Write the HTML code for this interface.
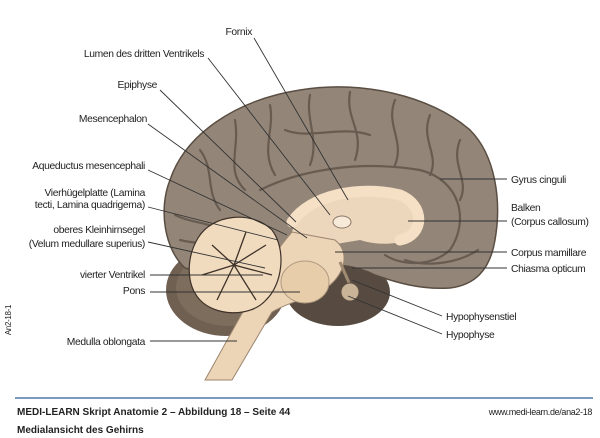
<!DOCTYPE html>
<html><head><meta charset="utf-8"><style>
html,body{margin:0;padding:0;background:#fff;}
svg{display:block;}
text{font-family:"Liberation Sans Narrow","Liberation Sans",sans-serif;font-size:10.3px;fill:#222;letter-spacing:-0.35px;}
.f{font-family:"Liberation Sans",sans-serif;letter-spacing:0;}
</style></head><body>
<svg width="600" height="438" viewBox="0 0 600 438" xmlns="http://www.w3.org/2000/svg">
<!-- cerebellum outer -->
<ellipse cx="226" cy="290" rx="60" ry="46" fill="#6f6052"/>
<ellipse cx="228" cy="288" rx="52" ry="38" fill="#7d6d5d"/>
<!-- dark under region -->
<ellipse cx="338" cy="292" rx="52" ry="34" fill="#574b41"/>
<!-- cerebrum -->
<path d="M185,268 C165,250 158,210 170,180 C185,135 235,100 300,90 C360,80 430,95 470,130 C495,155 502,200 495,240 C490,270 475,285 450,288 C420,290 395,282 375,275 C355,265 330,262 310,268 C280,275 250,265 230,258 C210,262 195,272 185,268 Z" fill="#938678" stroke="#5a4d42" stroke-width="1.5"/>
<!-- gyri -->
<g fill="none" stroke="#685b50" stroke-width="2.2" stroke-linecap="round">
<path d="M200,150 C215,170 205,190 220,210"/>
<path d="M235,120 C240,150 225,170 245,190"/>
<path d="M270,105 C275,130 260,150 275,175"/>
<path d="M310,95 C305,120 320,140 310,165"/>
<path d="M350,92 C345,120 365,130 355,160"/>
<path d="M395,100 C385,125 405,140 395,165"/>
<path d="M430,115 C420,140 440,155 430,175"/>
<path d="M460,140 C450,165 470,180 460,200"/>
<path d="M175,215 C195,225 210,220 225,235"/>
<path d="M260,190 C300,170 360,160 420,170 C460,180 470,220 450,250 C430,268 400,265 385,255"/>
<path d="M405,260 C430,268 460,262 478,250"/>
<path d="M180,240 C200,245 215,242 230,250"/>
<path d="M285,130 C310,140 340,125 370,135"/>
</g>
<!-- corpus callosum & diencephalon -->
<path d="M292,232 C300,205 340,190 380,190 C425,192 430,225 405,240 C395,245 375,245 360,240 L330,245 Z" fill="#ecd6bc"/>
<path d="M292,222 C310,195 360,185 400,195 C425,205 425,235 400,240" fill="none" stroke="#f5e0c6" stroke-width="11" stroke-linecap="round"/>
<ellipse cx="342" cy="222" rx="9" ry="6" fill="#f8ead8" stroke="#8a7766"/>
<!-- brainstem -->
<path d="M292,232 L335,240 C350,252 345,272 330,285 C310,300 292,300 272,312 L232,380 L205,380 L255,290 C265,268 278,248 292,232 Z" fill="#ecd4b6" stroke="#9c8670" stroke-width="1"/>
<ellipse cx="305" cy="282" rx="24" ry="21" fill="#e7cdaa" stroke="#b09a80"/>
<!-- cerebellum arbor -->
<path d="M198,238 C212,214 252,210 272,230 C287,250 282,285 266,300 C250,318 215,316 200,300 C186,285 186,258 198,238 Z" fill="#f0dbbf" stroke="#3e3128" stroke-width="1.2"/>
<g stroke="#3e3128" stroke-width="1.3" fill="none">
<path d="M234,265 L212,245 M234,265 L246,232 M234,265 L266,245 M234,265 L202,275 M234,265 L217,300 M234,265 L256,300 M234,265 L272,275"/>
</g>
<!-- pituitary -->
<line x1="340" y1="262" x2="350" y2="285" stroke="#a08a72" stroke-width="3"/>
<circle cx="350" cy="292" r="9" fill="#c9b497" stroke="#5a4d42"/>
<!-- leader lines -->
<g stroke="#333" stroke-width="0.9" fill="none">
<line x1="254" y1="38" x2="348" y2="200"/>
<line x1="208" y1="58" x2="330" y2="215"/>
<line x1="160" y1="90" x2="296" y2="222"/>
<line x1="148" y1="124" x2="307" y2="238"/>
<line x1="148" y1="170" x2="287" y2="235"/>
<line x1="148" y1="207" x2="278" y2="240"/>
<line x1="148" y1="242" x2="265" y2="268"/>
<line x1="150" y1="275" x2="263" y2="275"/>
<line x1="150" y1="292" x2="300" y2="292"/>
<line x1="150" y1="341" x2="237" y2="341"/>
<line x1="440" y1="179" x2="507" y2="179"/>
<line x1="408" y1="221" x2="507" y2="221"/>
<line x1="335" y1="252" x2="507" y2="252"/>
<line x1="352" y1="268" x2="507" y2="268"/>
<line x1="352" y1="280" x2="442" y2="316"/>
<line x1="348" y1="296" x2="442" y2="334"/>
</g>
<!-- labels -->
<g text-anchor="end">
<text x="252" y="35">Fornix</text>
<text x="204" y="57">Lumen des dritten Ventrikels</text>
<text x="157" y="88">Epiphyse</text>
<text x="147" y="122">Mesencephalon</text>
<text x="145" y="169">Aqueductus mesencephali</text>
<text x="145" y="196">Vierhügelplatte (Lamina</text>
<text x="145" y="208">tecti, Lamina quadrigema)</text>
<text x="145" y="233">oberes Kleinhirnsegel</text>
<text x="145" y="247">(Velum medullare superius)</text>
<text x="145" y="278">vierter Ventrikel</text>
<text x="145" y="294">Pons</text>
<text x="145" y="345">Medulla oblongata</text>
</g>
<text x="511" y="183">Gyrus cinguli</text>
<text x="511" y="211">Balken</text>
<text x="511" y="225">(Corpus callosum)</text>
<text x="511" y="256">Corpus mamillare</text>
<text x="511" y="272">Chiasma opticum</text>
<text x="446" y="320">Hypophysenstiel</text>
<text x="446" y="338">Hypophyse</text>
<text x="11" y="320" transform="rotate(-90 11 320)" text-anchor="middle" style="font-size:8px">An2-18-1</text>
<!-- footer -->
<line x1="15" y1="398" x2="593" y2="398" stroke="#4f79ad" stroke-width="1.5"/>
<text class="f" x="17" y="415" style="font-weight:bold;font-size:10px">MEDI-LEARN Skript Anatomie 2 – Abbildung 18 – Seite 44</text>
<text class="f" x="17" y="433" style="font-weight:bold;font-size:10px">Medialansicht des Gehirns</text>
<text x="592" y="415" text-anchor="end" style="font-size:9px">www.medi-learn.de/ana2-18</text>
</svg>
</body></html>
